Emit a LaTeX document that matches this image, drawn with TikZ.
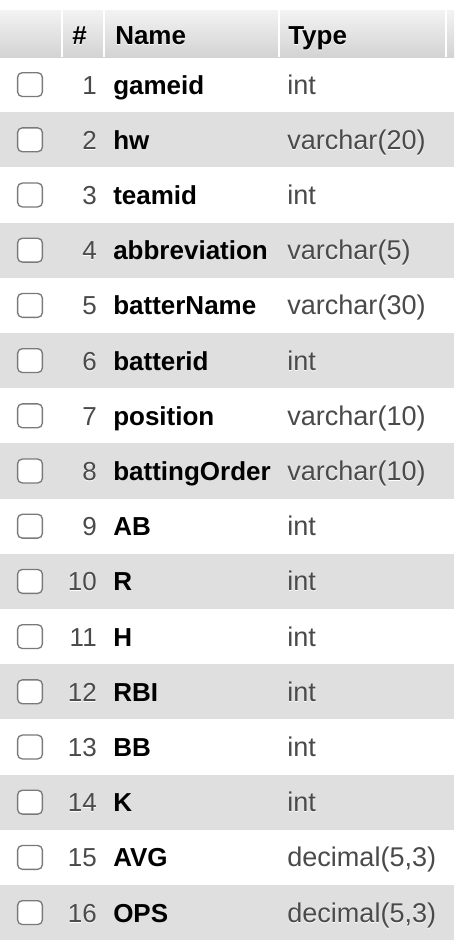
\documentclass[tikz,border=0pt]{standalone}
\usepackage{fontspec}
\setmainfont{Liberation Sans}
\definecolor{rowgray}{HTML}{DFDFDF}
\definecolor{headtop}{HTML}{F3F3F3}
\definecolor{headbot}{HTML}{D3D3D3}
\definecolor{boxgray}{HTML}{7A7A7A}
\definecolor{txtgray}{HTML}{4A4A4A}
\newcommand\shd[1]{\makebox[0pt][l]{\raisebox{-0.8pt}{\textcolor{white}{#1}}}#1}
\begin{document}
\begin{tikzpicture}[x=0.75pt,y=-0.75pt,
  cell/.style={inner sep=0pt, font=\fontsize{19.5}{23}\selectfont},
  numtxt/.style={cell, anchor=base east, text=txtgray},
  nametxt/.style={cell, anchor=base west, font=\fontsize{19.5}{23}\selectfont\bfseries},
  typetxt/.style={cell, anchor=base west, text=txtgray, font=\fontsize{20.3}{24}\selectfont},
  hdr/.style={cell, anchor=base west, font=\fontsize{19.5}{23}\selectfont\bfseries},
  chk/.style={draw=boxgray, fill=white, line width=1pt, rounded corners=3.5pt,
    minimum width=18.6pt, minimum height=17.9pt, inner sep=0pt}]
\useasboundingbox (0,0) rectangle (454,946);
\fill[white] (0,0) rectangle (454,946);
% header
\shade[top color=headtop, bottom color=headbot] (0,10) rectangle (454,57);
\foreach \sx in {62,104.3,279,446} {\fill[white] (\sx-1,10) rectangle (\sx+1,57);}
\node[hdr] (hnum) at (72,44) {\shd{\#}};
\node[hdr] (hname) at (115,44) {\shd{Name}};
\node[hdr] (htype) at (288,44) {\shd{Type}};
% rows
\foreach \i/\nm/\ty in {1/gameid/int,2/hw/{varchar(20)},3/teamid/int,4/abbreviation/{varchar(5)},
  5/batterName/{varchar(30)},6/batterid/int,7/position/{varchar(10)},8/battingOrder/{varchar(10)},
  9/AB/int,10/R/int,11/H/int,12/RBI/int,13/BB/int,14/K/int,15/AVG/{decimal(5,3)},16/OPS/{decimal(5,3)}} {
  \pgfmathsetmacro\rtop{57+(\i-1)*55.2}
  \pgfmathsetmacro\rcy{\rtop+27.6}
  \ifodd\i\relax\else\fill[rowgray] (0,\rtop) rectangle (454,\rtop+55.2);\fi
  \node[chk] (c\i) at (30,\rcy) {};
  \node[numtxt] (n\i) at (97,\rcy+9.5) {\shd{\i}};
  \node[nametxt] (m\i) at (113,\rcy+9.5) {\nm};
  \node[typetxt] (t\i) at (287,\rcy+9.5) {\shd{\ty}};
}
\end{tikzpicture}
\end{document}
